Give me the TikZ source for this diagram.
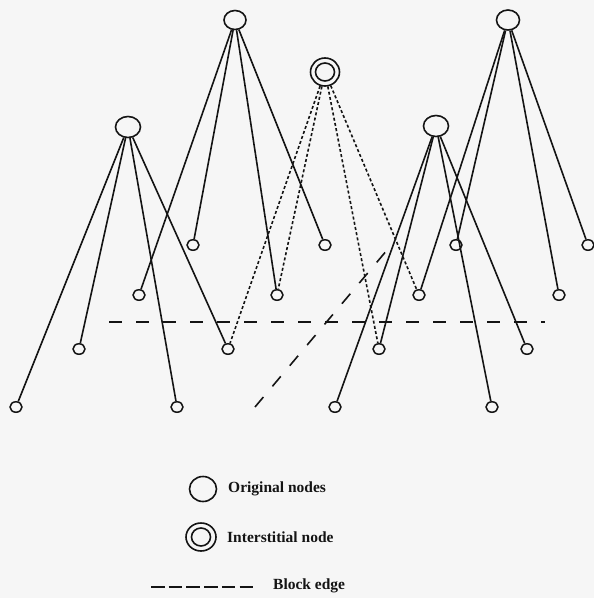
\documentclass[tikz,border=0pt]{standalone}
\usepackage{fontspec}
\setmainfont{Liberation Serif}
\usetikzlibrary{shapes.geometric}
\definecolor{ink}{RGB}{20,20,20}
\definecolor{paper}{RGB}{246,246,246}
\tikzset{
  parent/.style={ellipse,draw=ink,line width=1.6pt,minimum width=22pt,minimum height=19pt,inner sep=0pt},
  child/.style={ellipse,draw=ink,line width=1.5pt,minimum width=12pt,minimum height=10.5pt,inner sep=0pt},
  edge/.style={draw=ink,line width=1.6pt},
  dotedge/.style={draw=ink,line width=1.6pt,dash pattern=on 3pt off 2.3pt},
  blockedge/.style={draw=ink,line width=1.6pt,dash pattern=on 13pt off 14pt},
  legtext/.style={anchor=west,inner sep=0pt,font=\fontsize{15.5}{17}\selectfont\bfseries,text=ink}
}
\begin{document}
\begin{tikzpicture}[x=1pt,y=-1pt]
\fill[paper] (0,0) rectangle (594,598);
\useasboundingbox (0,0) rectangle (594,598);
% parents
\node[parent] (A) at (235,20) {};
\node[parent,minimum width=25pt,minimum height=21pt] (B) at (128,127) {};
\node[parent,minimum width=25pt,minimum height=21pt] (D) at (436,126) {};
\node[parent,minimum width=23pt,minimum height=20pt] (E) at (508,20) {};
\node[parent,minimum width=29pt,minimum height=28pt] (C) at (325,72) {};
\node[parent,minimum width=19pt,minimum height=18pt] (Cin) at (325,72) {};
% children
\node[child] (a1) at (139,295) {};
\node[child] (a2) at (193,245) {};
\node[child] (a3) at (277,295) {};
\node[child] (a4) at (325,245) {};
\node[child] (b1) at (16,407) {};
\node[child] (b2) at (79,349) {};
\node[child] (b3) at (177,407) {};
\node[child] (b4) at (228,349) {};
\node[child] (d1) at (335,407) {};
\node[child] (d2) at (379,349) {};
\node[child] (d3) at (492,407) {};
\node[child] (d4) at (527,349) {};
\node[child] (e1) at (419,295) {};
\node[child] (e2) at (456,245) {};
\node[child] (e3) at (559,295) {};
\node[child] (e4) at (588,245) {};
% edges
\foreach \c in {a1,a2,a3,a4} \path[edge] (A) -- (\c);
\foreach \c in {b1,b2,b3,b4} \path[edge] (B) -- (\c);
\foreach \c in {d1,d2,d3,d4} \path[edge] (D) -- (\c);
\foreach \c in {e1,e2,e3,e4} \path[edge] (E) -- (\c);
\foreach \c in {b4,a3,d2,e1} \path[dotedge] (C) -- (\c);
% block edges
\coordinate (h1) at (109,322);
\coordinate (h2) at (545,322);
\coordinate (g1) at (255,407);
\coordinate (g2) at (393,243);
\path[blockedge] (h1) -- (h2);
\path[blockedge] (g1) -- (g2);
% legend
\node[parent,minimum width=27pt,minimum height=25pt] (L1) at (203,489) {};
\node[legtext] (T1) at (228,489) {Original nodes};
\node[parent,minimum width=30pt,minimum height=28pt] (L2) at (201,537) {};
\node[parent,minimum width=19pt,minimum height=18pt] (L2in) at (201,537) {};
\node[legtext] (T2) at (227,537) {Interstitial node};
\coordinate (k1) at (151,587);
\coordinate (k2) at (253,587);
\path[draw=ink,line width=1.6pt,dash pattern=on 13.5pt off 4.2pt] (k1) -- (k2);
\node[legtext] (T3) at (273,586) {Block edge};
\end{tikzpicture}
\end{document}
